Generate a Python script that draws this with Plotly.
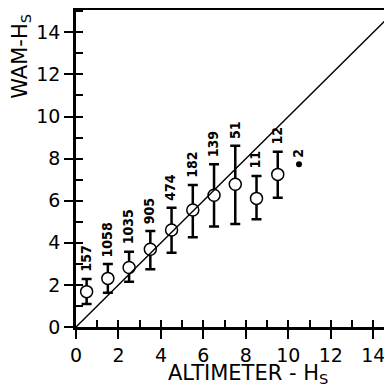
import plotly.graph_objects as go

# ---- data ----
alt_hs = [0.5, 1.5, 2.5, 3.5, 4.5, 5.5, 6.5, 7.5, 8.5, 9.5]
wam_hs = [1.68, 2.31, 2.83, 3.69, 4.61, 5.56, 6.26, 6.78, 6.11, 7.25]
err_top = [2.28, 2.99, 3.58, 4.56, 5.67, 6.75, 7.73, 8.61, 7.17, 8.33]
err_bot = [1.09, 1.63, 2.15, 2.74, 3.53, 4.26, 4.77, 4.89, 5.12, 6.14]
counts = ["157", "1058", "1035", "905", "474", "182", "139", "51", "11", "12"]

single_x = [10.5]
single_y = [7.73]
single_count = ["2"]

diag = [0, 15]
x_range = [0, 14.88]
y_range = [0, 15.06]
ticks_major = [0, 2, 4, 6, 8, 10, 12, 14]
tick_labels = ["0", "2", "4", "6", "8", "10", "12", "14"]

err_plus = [t - m for t, m in zip(err_top, wam_hs)]
err_minus = [m - b for m, b in zip(wam_hs, err_bot)]

fig = go.Figure()

fig.add_trace(go.Scatter(
    x=alt_hs, y=wam_hs, mode="markers",
    marker=dict(symbol="circle", size=12, color="white",
                line=dict(color="black", width=1.5)),
    error_y=dict(type="data", symmetric=False, array=err_plus,
                 arrayminus=err_minus, color="black", thickness=2.5, width=5),
    showlegend=False, cliponaxis=False))

fig.add_trace(go.Scatter(
    x=single_x, y=single_y, mode="markers",
    marker=dict(symbol="circle", size=6, color="black"),
    showlegend=False))

fig.add_trace(go.Scatter(
    x=diag, y=diag, mode="lines",
    line=dict(color="black", width=1.4), showlegend=False))

label_font = dict(family="DejaVu Sans Condensed, DejaVu Sans", size=14,
                  color="black", weight="bold")
annotations = []
for x, top, c in zip(alt_hs, err_top, counts):
    annotations.append(dict(x=x, y=top, xref="x", yref="y", text=c,
                            textangle=-90, showarrow=False, xanchor="center",
                            yanchor="bottom", xshift=-1, yshift=5,
                            font=label_font))
for x, y, c in zip(single_x, single_y, single_count):
    annotations.append(dict(x=x, y=y, xref="x", yref="y", text=c,
                            textangle=-90, showarrow=False, xanchor="center",
                            yanchor="bottom", xshift=-1, yshift=5,
                            font=label_font))

title_font = dict(family="DejaVu Sans", size=21, color="black")
annotations.append(dict(x=0.545, y=-0.102, xref="paper", yref="paper",
                        text="ALTIMETER - H<sub>S</sub>", showarrow=False,
                        xanchor="center", yanchor="top", font=title_font))
annotations.append(dict(x=-0.175, y=0.995, xref="paper", yref="paper",
                        text="WAM-H<sub>S</sub>", textangle=-90, showarrow=False,
                        xanchor="center", yanchor="top", font=title_font))

tick_font = dict(family="DejaVu Sans", size=19, color="black")

fig.update_layout(
    width=384, height=380,
    margin=dict(l=68, r=0, t=2, b=61),
    paper_bgcolor="white", plot_bgcolor="white",
    font=dict(family="DejaVu Sans", color="black"),
    annotations=annotations,
    xaxis=dict(range=x_range, tickvals=ticks_major, ticktext=tick_labels,
               ticks="outside", ticklen=9, tickwidth=2, tickcolor="black",
               showline=True, linewidth=2.5, linecolor="black",
               showgrid=False, zeroline=False, tickfont=tick_font),
    yaxis=dict(range=y_range, tickvals=ticks_major, ticktext=tick_labels,
               ticks="outside", ticklen=9, tickwidth=2, tickcolor="black",
               showline=True, linewidth=2.5, linecolor="black",
               showgrid=False, zeroline=False, tickfont=tick_font),
    xaxis2=dict(overlaying="x", matches="x", range=x_range, side="bottom",
                dtick=1, tick0=0, ticks="inside", ticklen=7, tickwidth=2,
                tickcolor="black", showticklabels=False, showgrid=False,
                zeroline=False, showline=False),
    yaxis2=dict(overlaying="y", matches="y", range=y_range, side="left",
                dtick=1, tick0=0, ticks="inside", ticklen=7, tickwidth=2,
                tickcolor="black", showticklabels=False, showgrid=False,
                zeroline=False, showline=False),
    xaxis3=dict(overlaying="x", matches="x", range=x_range, side="top",
                showline=True, linewidth=1.5, linecolor="black",
                ticks="", showticklabels=False, showgrid=False,
                zeroline=False),
)

# invisible traces to activate overlay axes
fig.add_trace(go.Scatter(x=diag, y=diag, xaxis="x2", yaxis="y2", mode="lines",
                         line=dict(width=0), hoverinfo="skip", showlegend=False))
fig.add_trace(go.Scatter(x=diag, y=diag, xaxis="x3", yaxis="y", mode="lines",
                         line=dict(width=0), hoverinfo="skip", showlegend=False))

fig.write_html("out.html")
